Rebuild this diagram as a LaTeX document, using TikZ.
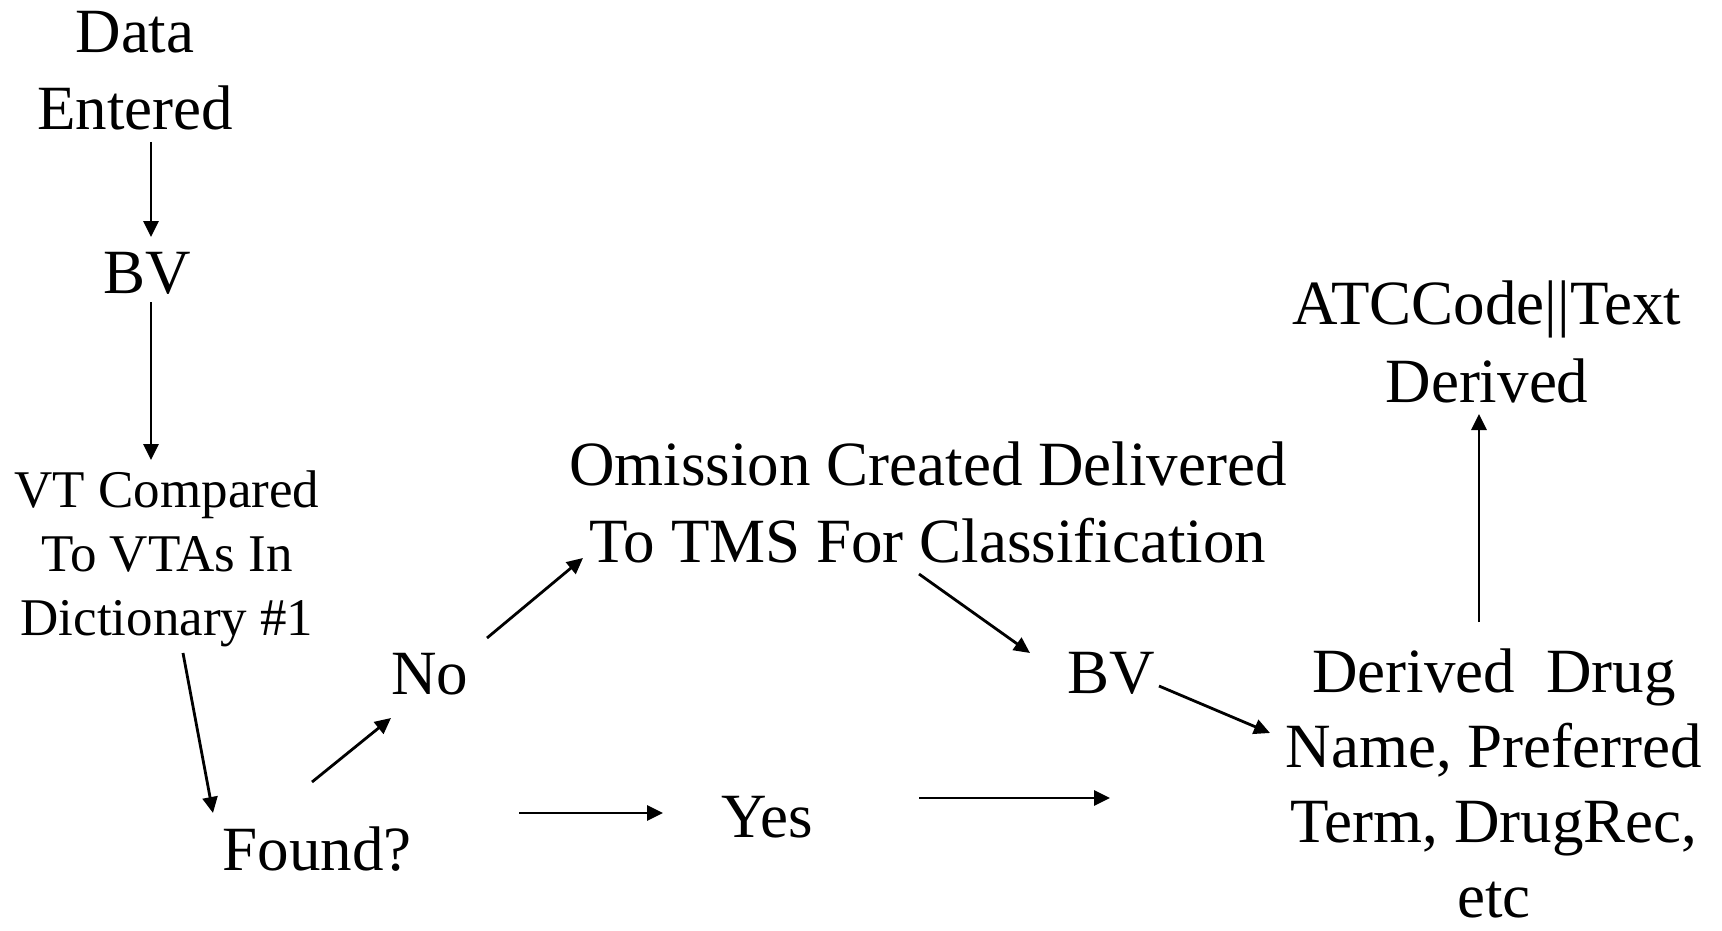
\documentclass[tikz,border=0pt]{standalone}
\usepackage{fontspec}
\setmainfont{Liberation Serif}
\usetikzlibrary{arrows.meta}
\tikzset{
  lbl/.style={inner sep=0pt, anchor=base, align=center, font=\fontsize{63}{77}\selectfont},
  lblsmall/.style={lbl, font=\fontsize{53}{64}\selectfont},
  arr/.style={line width=2.8pt, -{Triangle[length=16pt,width=15pt]}}
}
\begin{document}
\begin{tikzpicture}[x=1pt,y=-1pt]
\useasboundingbox (0,0) rectangle (1722,931);
% text nodes (multi-line nodes are placed by the baseline of their last line)
\node[lbl] (data) at (135,130) {Data\\Entered};
\node[lbl] (bv1) at (147,293) {BV};
\node[lblsmall] (vt) at (167,635) {VT Compared\\To VTAs In\\Dictionary \#1};
\node[lbl] (found) at (317,870) {Found?};
\node[lbl] (no) at (430,694) {No};
\node[lbl] (yes) at (767,837) {Yes};
\node[lbl] (om) at (928,562) {Omission Created Delivered\\To TMS For Classification};
\node[lbl] (bv2) at (1111,693) {BV};
\node[lbl, font=\fontsize{63}{75}\selectfont] (drug) at (1494,917) {Derived\ \ Drug\\Name, Preferred\\Term, DrugRec,\\etc};
\node[lbl, font=\fontsize{63}{78}\selectfont] (atc) at (1487,402) {ATCCode||Text\\Derived};
% connector end points
\coordinate (data-o) at (151,142);  \coordinate (bv1-i) at (151,237);
\coordinate (bv1-o) at (151,302);   \coordinate (vt-i) at (151,460);
\coordinate (vt-o) at (183,653);    \coordinate (found-i) at (213,813);
\coordinate (found-o1) at (312,782); \coordinate (no-i) at (391,718);
\coordinate (no-o) at (487,638);    \coordinate (om-i) at (583,558);
\coordinate (om-o) at (919,574);    \coordinate (bv2-i) at (1030,653);
\coordinate (bv2-o) at (1159,686);  \coordinate (drug-i) at (1270,733);
\coordinate (found-o2) at (519,813); \coordinate (yes-i) at (663,813);
\coordinate (yes-o) at (919,798);   \coordinate (yes-end) at (1110,798);
\coordinate (drug-o) at (1479,622); \coordinate (atc-i) at (1479,414);
% connectors
\draw[arr] (data-o) -- (bv1-i);
\draw[arr] (bv1-o) -- (vt-i);
\draw[arr] (vt-o) -- (found-i);
\draw[arr] (found-o1) -- (no-i);
\draw[arr] (no-o) -- (om-i);
\draw[arr] (om-o) -- (bv2-i);
\draw[arr] (bv2-o) -- (drug-i);
\draw[arr] (found-o2) -- (yes-i);
\draw[arr] (yes-o) -- (yes-end);
\draw[arr] (drug-o) -- (atc-i);
\end{tikzpicture}
\end{document}
